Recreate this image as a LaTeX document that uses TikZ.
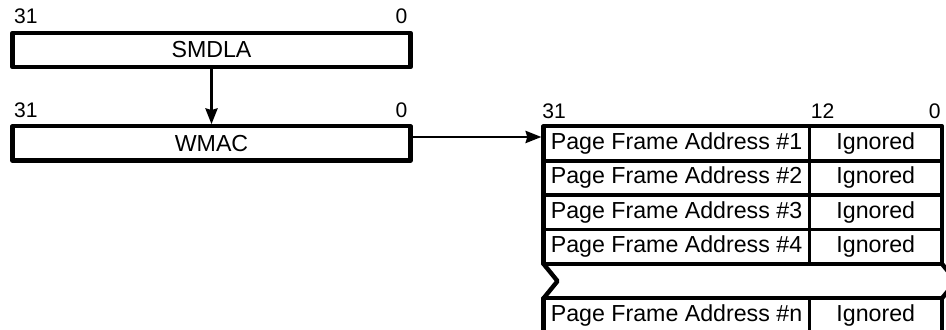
\documentclass[tikz,border=0pt]{standalone}
\usepackage{fontspec}
\setmainfont{Liberation Sans}
\usepackage{tikz}
\usetikzlibrary{arrows.meta}

\begin{document}
\begin{tikzpicture}[x=0.02cm,y=-0.02cm,
	reg/.style={draw,line width=2.5pt,line join=round,minimum width=7.96cm,minimum height=0.688cm,inner sep=0pt,font=\fontsize{13.2}{15}\selectfont},
	cell/.style={minimum height=0.688cm,inner sep=0pt,outer sep=0pt,font=\fontsize{13.2}{15}\selectfont},
	bit/.style={inner sep=0pt,font=\fontsize{12}{14}\selectfont},
	frame/.style={line width=2.5pt,line join=round,line cap=round},
	arr/.style={-{Stealth[length=9pt,width=7pt,inset=1pt]},line width=1.2pt}]
				\useasboundingbox (0,0) rectangle (946,330);
				\clip (0,0) rectangle (946,330);
				\node[reg] (s) at (211.5,50) {SMDLA};
				\node[reg] (w) at (211.5,143.5) {WMAC};
				\node[bit,anchor=base west] (s-31) at ([shift={(3.5,-6.7)}]s.north west) {31};
				\node[bit,anchor=base east] (s-0) at ([shift={(-5,-6.7)}]s.north east) {0};
				\node[bit,anchor=base west] (w-31) at ([shift={(3.5,-6.7)}]w.north west) {31};
				\node[bit,anchor=base east] (w-0) at ([shift={(-5,-6.7)}]w.north east) {0};
				\foreach \k/\y in {1/143.5,2/177.9,3/212.3,4/246.7,n/315.5} {
					\node[cell,minimum width=5.32cm] (a-\k) at (676.5,\y) {Page Frame Address \#\k};
					\node[cell,minimum width=2.65cm] (g-\k) at (875.75,\y) {Ignored};
				}
				\node[bit,anchor=base west] (t-31) at ([shift={(-1.5,-8)}]a-1.north west) {31};
				\node[bit,anchor=base west] (t-12) at ([shift={(1,-8)}]a-1.north east) {12};
				\node[bit,anchor=base east] (t-0) at ([shift={(-1,-8)}]g-1.north east) {0};
				\draw[line width=1.2pt] (a-1.north east) -- (a-4.south east) (a-n.north east) -- (a-n.south east);
				\foreach \k in {1,2,3} \draw[line width=2.2pt] (a-\k.south west) -- (g-\k.south east);
				\draw[frame] (a-1.north west) rectangle (g-4.south east) (a-n.north west) rectangle (g-n.south east);
				\draw[frame] (a-4.south west) -- ++(14,17.2) -- (a-n.north west) (g-4.south east) -- ++(14,17.2) -- (g-n.north east);
				\draw[arr] (s) -- (w);
				\draw[arr] ([shift={(0,-6.5)}]w.east) -- ([shift={(-2.2,-6.5)}]a-1.west);
			\end{tikzpicture}
\end{document}
